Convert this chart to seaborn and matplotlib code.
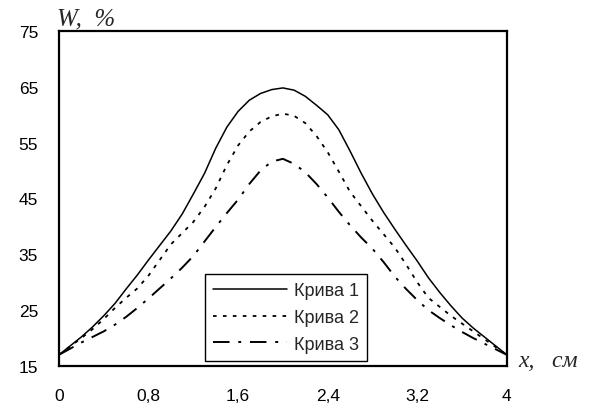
import numpy as np
import pandas as pd
import matplotlib
matplotlib.use("Agg")
import matplotlib.pyplot as plt
import seaborn as sns

# данные кривых (шаг 0,1 см)
x_vals = [0.0, 0.1, 0.2, 0.3, 0.4, 0.5, 0.6, 0.7, 0.8, 0.9, 1.0,
          1.1, 1.2, 1.3, 1.4, 1.5, 1.6, 1.7, 1.8, 1.9, 2.0,
          2.1, 2.2, 2.3, 2.4, 2.5, 2.6, 2.7, 2.8, 2.9, 3.0,
          3.1, 3.2, 3.3, 3.4, 3.5, 3.6, 3.7, 3.8, 3.9, 4.0]
curve1 = [17, 18.6, 20.2, 22.0, 24.0, 26.2, 28.8, 31.3, 34.0, 36.6, 39.2,
          42.2, 45.8, 49.5, 54.0, 57.8, 60.6, 62.6, 63.8, 64.5, 64.8,
          64.4, 63.3, 61.7, 60.0, 57.3, 53.5, 49.5, 45.8, 42.5, 39.5,
          36.6, 33.8, 30.8, 28.2, 25.8, 23.6, 21.8, 20.2, 18.6, 17]
curve2 = [17, 18.5, 20.0, 21.6, 23.4, 25.4, 27.2, 28.9, 31.2, 34.0, 36.8,
          38.8, 40.8, 43.5, 46.8, 51.0, 54.5, 57.0, 58.7, 59.7, 60.2,
          59.8, 58.5, 56.2, 53.3, 49.8, 46.2, 43.6, 41.0, 38.6, 36.2,
          33.2, 30.0, 27.2, 25.6, 24.0, 22.6, 21.2, 19.8, 18.4, 17]
curve3 = [17, 18.1, 19.2, 20.2, 21.2, 22.4, 23.8, 25.4, 27.1, 28.9, 30.7,
          32.6, 34.7, 37.3, 39.9, 42.4, 44.8, 47.6, 50.0, 51.6, 52.1,
          51.2, 49.7, 47.6, 45.2, 42.6, 40.2, 38.0, 36.0, 33.6, 31.0,
          28.8, 26.8, 25.0, 23.6, 22.3, 21.1, 20.0, 19.0, 18.0, 17]
names = ["Крива 1", "Крива 2", "Крива 3"]

x_ticks = [0, 0.8, 1.6, 2.4, 3.2, 4]
x_tick_labels = ["0", "0,8", "1,6", "2,4", "3,2", "4"]
y_ticks = [15, 25, 35, 45, 55, 65, 75]

sns.set_style("white")
plt.rcParams['font.family'] = ['Liberation Sans', 'DejaVu Sans']

fig = plt.figure(figsize=(5.92, 4.10), dpi=100)
ax = fig.add_axes([0.0997, 0.105, 0.7563, 0.817])

styles = ["-", (0, (2, 3.5)), (0, (8.5, 4.5, 1.5, 4.5))]
widths = [1.1, 1.3, 1.4]
for vals, name, ls, lw in zip([curve1, curve2, curve3], names, styles, widths):
    df = pd.DataFrame({"x": x_vals, "y": vals})
    sns.lineplot(data=df, x="x", y="y", ax=ax, color="black",
                 linestyle=ls, linewidth=lw, label=name)

ax.set_xlim(0, 4)
ax.set_ylim(15, 75)
ax.set_xticks(x_ticks)
ax.set_xticklabels(x_tick_labels)
ax.set_yticks(y_ticks)
ax.set_xlabel("")
ax.set_ylabel("")
ax.tick_params(axis="both", direction="out", length=4, width=1.2,
               labelsize=12.5, colors="black")
ax.tick_params(axis="x", pad=12)
ax.tick_params(axis="y", pad=11)
for s in ax.spines.values():
    s.set_color("black")
    s.set_linewidth(1.6)

leg = ax.legend(loc="lower left", bbox_to_anchor=(0.326, 0.015),
                borderaxespad=0, frameon=True, fancybox=False, fontsize=13,
                handlelength=4.1, handletextpad=0.4, borderpad=0.45,
                labelspacing=0.55)
leg.get_frame().set_edgecolor("black")
leg.get_frame().set_linewidth(1.0)
leg.get_frame().set_alpha(1)

ax.text(-0.004, 1.02, "W,  %", transform=ax.transAxes, fontsize=18,
        family="Liberation Serif", style="italic", ha="left", va="baseline")
ax.text(1.025, 0.0, "x,   см", transform=ax.transAxes, fontsize=17,
        family="Liberation Serif", style="italic", ha="left", va="baseline")

fig.savefig("out.png", dpi=100)
